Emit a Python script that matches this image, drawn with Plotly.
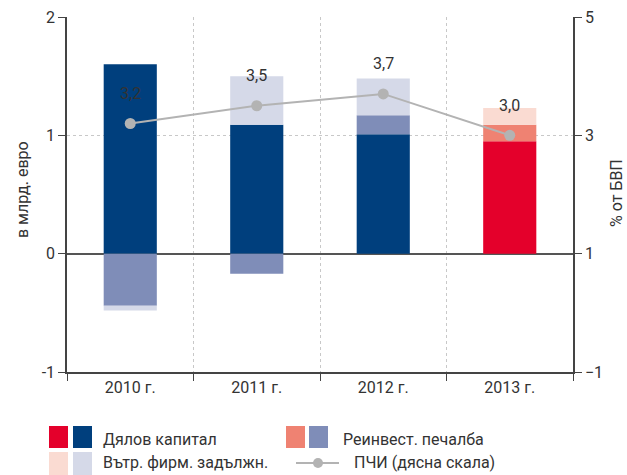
import plotly.graph_objects as go

years = ["2010 г.", "2011 г.", "2012 г.", "2013 г."]
equity = [1.60, 1.09, 1.01, 0.95]
reinvested = [-0.44, -0.17, 0.16, 0.14]
intercompany = [-0.04, 0.41, 0.31, 0.14]
fdi_pct = [3.2, 3.5, 3.7, 3.0]
fdi_labels = ["3,2", "3,5", "3,7", "3,0"]

BLUE = ["#003f7d", "#7f8db8", "#d5d9e8"]
RED = ["#e4002b", "#ef8272", "#fadbd2"]
GREY = "#b3b3b3"
TXT = "#333333"
FONT = "Roboto"

def colors(i):
    return [BLUE[i], BLUE[i], BLUE[i], RED[i]]

fig = go.Figure()
for i, vals in enumerate([equity, reinvested, intercompany]):
    fig.add_trace(go.Bar(x=years, y=vals, marker=dict(color=colors(i), line=dict(width=0)),
                         showlegend=False, hoverinfo="y"))

fig.add_trace(go.Scatter(x=years, y=fdi_pct, yaxis="y2", mode="lines+markers",
                         line=dict(color=GREY, width=2), marker=dict(color=GREY, size=11),
                         showlegend=False))

annotations = []
for x, y, t in zip(years, fdi_pct, fdi_labels):
    annotations.append(dict(x=x, y=y, yref="y2", xref="x", text=t, showarrow=False,
                            yshift=30, font=dict(size=16, color=TXT, family=FONT)))

# legend + titles (pixel helpers)
L, R, T, B = 67, 54, 17, 103
W, H = 627, 475
pw, ph = W - L - R, H - T - B
def px(x): return (x - L) / pw
def py(y): return (H - B - y) / ph

shapes = []
def sq(x0, y0, x1, y1, c):
    shapes.append(dict(type="rect", xref="paper", yref="paper", x0=px(x0), x1=px(x1),
                       y0=py(y1), y1=py(y0), fillcolor=c, line=dict(width=0), layer="above"))
sq(49, 426, 68, 448, RED[0]); sq(73, 426, 92, 448, BLUE[0])
sq(286, 426, 305, 448, RED[1]); sq(309, 426, 328, 448, BLUE[1])
sq(49, 452, 68, 476, RED[2]); sq(73, 452, 92, 476, BLUE[2])
shapes.append(dict(type="line", xref="paper", yref="paper", x0=px(296), x1=px(339),
                   y0=py(463), y1=py(463), line=dict(color=GREY, width=2)))
shapes.append(dict(type="circle", xref="paper", yref="paper", x0=px(313), x1=px(323),
                   y0=py(468), y1=py(458), fillcolor=GREY, line=dict(width=0)))

def txt(x, y, t, angle=0, anchor="left"):
    annotations.append(dict(xref="paper", yref="paper", x=px(x), y=py(y), text=t,
                            showarrow=False, xanchor=anchor, yanchor="middle", textangle=angle,
                            font=dict(size=16, color=TXT, family=FONT)))
txt(101, 439, "Дялов капитал")
txt(341, 439, "Реинвест. печалба")
txt(101, 462, "Вътр. фирм. задължн.")
txt(352, 462, "ПЧИ (дясна скала)")
txt(22, 190, "в млрд. евро", angle=-90, anchor="center")
txt(616, 193, "% от БВП", angle=-90, anchor="center")

fig.update_layout(
    width=W, height=H, margin=dict(l=L, r=R, t=T, b=B, autoexpand=False),
    paper_bgcolor="white", plot_bgcolor="white",
    barmode="relative", bargap=0.58,
    font=dict(family=FONT, size=16, color=TXT),
    xaxis=dict(type="category", tickson="boundaries", ticks="outside", ticklen=7,
               tickcolor="#444", showline=True, linecolor="#444", linewidth=1.5,
               showgrid=True, gridcolor="#c8c8c8", griddash="dot", gridwidth=1,
               tickfont=dict(size=16, color=TXT), range=[-0.5, 3.5], automargin=False),
    yaxis=dict(range=[-1, 2], tickvals=[-1, 0, 1, 2], ticktext=["-1", "0", "1", "2"],
               ticks="outside", ticklen=7, tickcolor="#444",
               showline=True, linecolor="#444", linewidth=1.5,
               showgrid=True, gridcolor="#c8c8c8", griddash="dot",
               zeroline=True, zerolinecolor="#555", zerolinewidth=1.5,
               tickfont=dict(size=16, color=TXT), automargin=False),
    yaxis2=dict(range=[-1, 5], tickvals=[-1, 1, 3, 5], overlaying="y", side="right",
                ticks="outside", ticklen=7, tickcolor="#444",
                showline=True, linecolor="#444", linewidth=1.5, showgrid=False,
                zeroline=False, tickfont=dict(size=16, color=TXT), automargin=False),
    shapes=shapes, annotations=annotations,
)

fig.write_html("out.html", config={"displayModeBar": False},
               post_script="document.body.style.margin='0';document.body.style.overflow='hidden';")
